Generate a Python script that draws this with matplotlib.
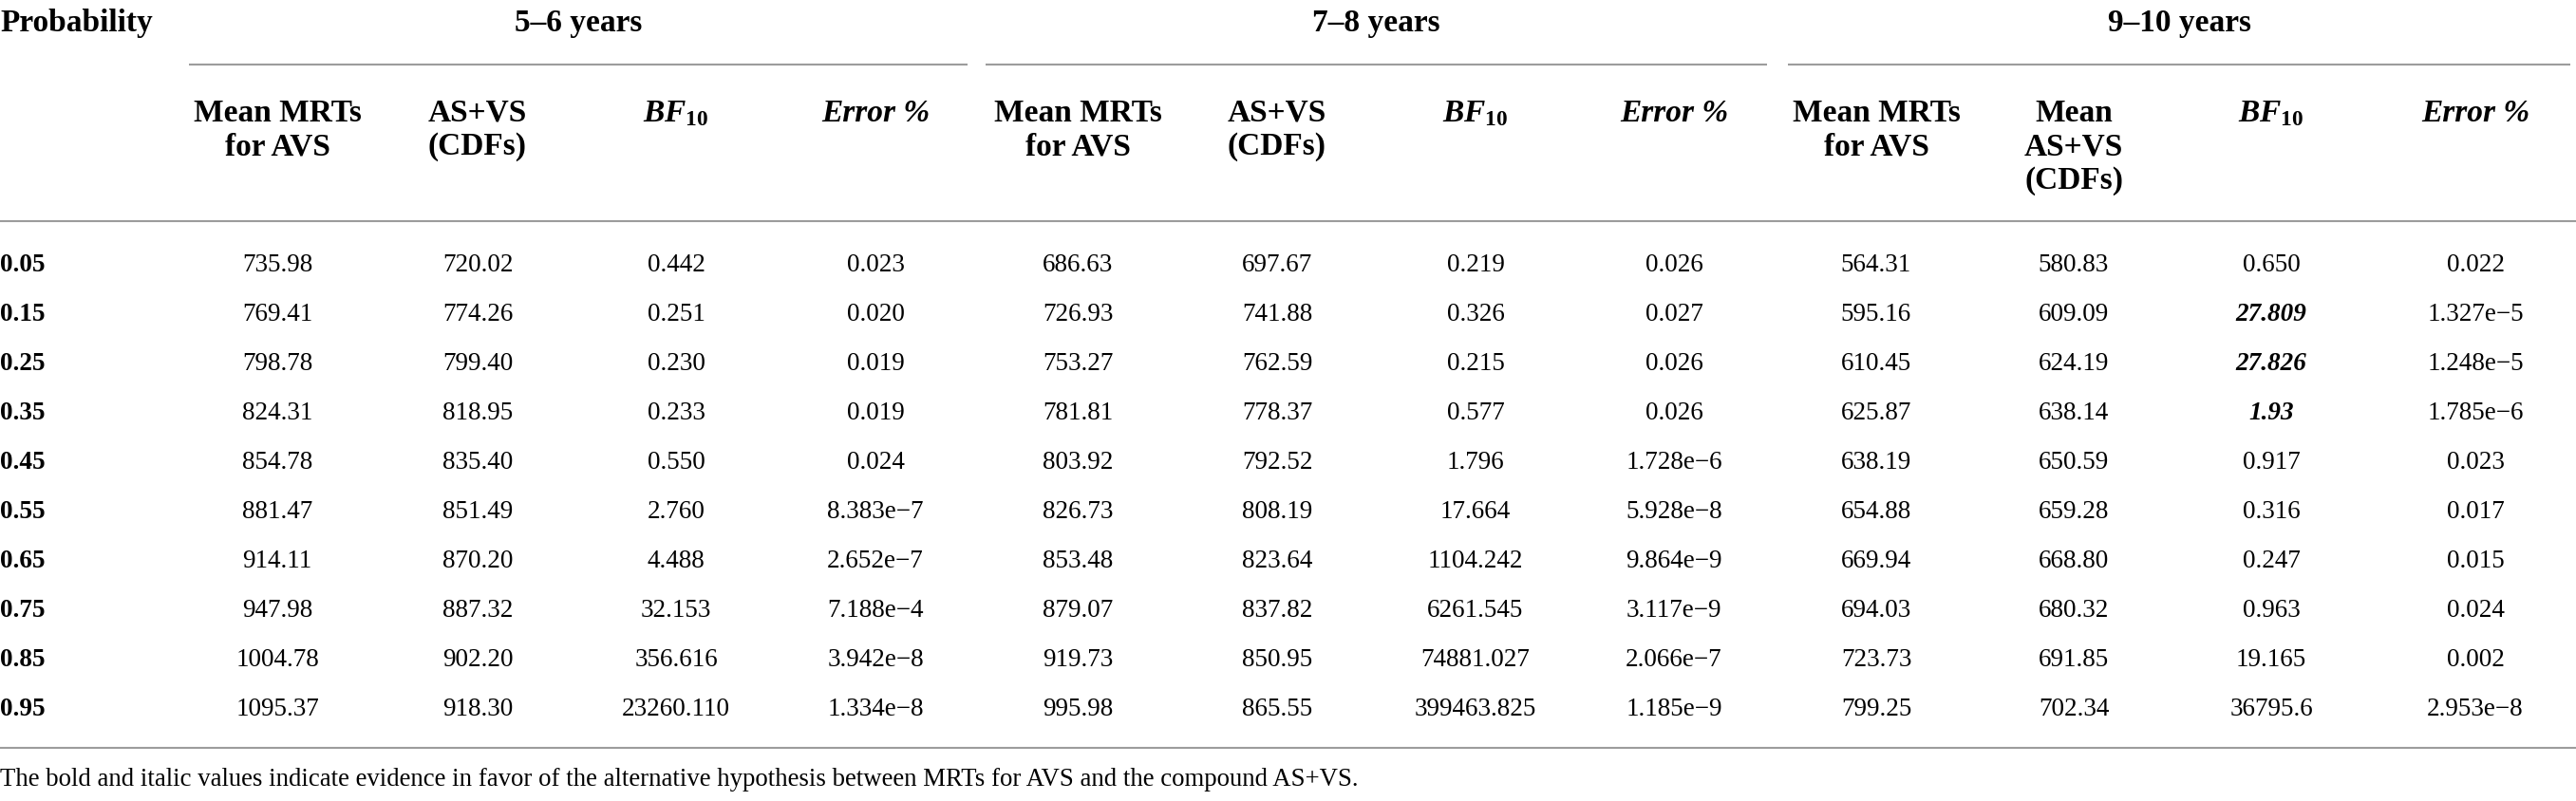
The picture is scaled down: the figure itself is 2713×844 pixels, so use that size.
import matplotlib.pyplot as plt

plt.rcParams['font.family'] = ['Liberation Serif', 'DejaVu Serif']
plt.rcParams['mathtext.fontset'] = 'custom'
plt.rcParams['mathtext.rm'] = 'Liberation Serif:bold'
plt.rcParams['mathtext.it'] = 'Liberation Serif:italic:bold'
plt.rcParams['mathtext.bf'] = 'Liberation Serif:bold'

# data
probabilities = ['0.05', '0.15', '0.25', '0.35', '0.45', '0.55', '0.65', '0.75', '0.85', '0.95']
groups = ['5\u20136 years', '7\u20138 years', '9\u201310 years']

mrt_56 = ['735.98', '769.41', '798.78', '824.31', '854.78', '881.47', '914.11', '947.98', '1004.78', '1095.37']
cdf_56 = ['720.02', '774.26', '799.40', '818.95', '835.40', '851.49', '870.20', '887.32', '902.20', '918.30']
bf_56 = ['0.442', '0.251', '0.230', '0.233', '0.550', '2.760', '4.488', '32.153', '356.616', '23260.110']
err_56 = ['0.023', '0.020', '0.019', '0.019', '0.024', '8.383e\u22127', '2.652e\u22127', '7.188e\u22124', '3.942e\u22128', '1.334e\u22128']

mrt_78 = ['686.63', '726.93', '753.27', '781.81', '803.92', '826.73', '853.48', '879.07', '919.73', '995.98']
cdf_78 = ['697.67', '741.88', '762.59', '778.37', '792.52', '808.19', '823.64', '837.82', '850.95', '865.55']
bf_78 = ['0.219', '0.326', '0.215', '0.577', '1.796', '17.664', '1104.242', '6261.545', '74881.027', '399463.825']
err_78 = ['0.026', '0.027', '0.026', '0.026', '1.728e\u22126', '5.928e\u22128', '9.864e\u22129', '3.117e\u22129', '2.066e\u22127', '1.185e\u22129']

mrt_910 = ['564.31', '595.16', '610.45', '625.87', '638.19', '654.88', '669.94', '694.03', '723.73', '799.25']
cdf_910 = ['580.83', '609.09', '624.19', '638.14', '650.59', '659.28', '668.80', '680.32', '691.85', '702.34']
bf_910 = ['0.650', '27.809', '27.826', '1.93', '0.917', '0.316', '0.247', '0.963', '19.165', '36795.6']
err_910 = ['0.022', '1.327e\u22125', '1.248e\u22125', '1.785e\u22126', '0.023', '0.017', '0.015', '0.024', '0.002', '2.953e\u22128']

# rows (by index) of the 9-10 years BF10 column in bold italic
highlight_910 = [1, 2, 3]

col_headers = [
    [['Mean MRTs', 'for AVS'], ['AS+VS', '(CDFs)'], None, ['Error %']],
    [['Mean MRTs', 'for AVS'], ['AS+VS', '(CDFs)'], None, ['Error %']],
    [['Mean MRTs', 'for AVS'], ['Mean', 'AS+VS', '(CDFs)'], None, ['Error %']],
]
footnote = ('The bold and italic values indicate evidence in favor of the alternative '
            'hypothesis between MRTs for AVS and the compound AS+VS.')

table = [
    [mrt_56, cdf_56, bf_56, err_56],
    [mrt_78, cdf_78, bf_78, err_78],
    [mrt_910, cdf_910, bf_910, err_910],
]

# layout (pixel coordinates)
W, H = 2713, 844
col_x = [[292, 503, 712, 922], [1135, 1345, 1554, 1763], [1976, 2184, 2392, 2607]]
group_span = [(199, 1019), (1038, 1861), (1883, 2707)]
row_y0, row_dy = 279, 52.0
rule_color = '#9c9c9c'
head_fs = 24
body_fs = 19.5

fig = plt.figure(figsize=(W / 100, H / 100), dpi=100)
ax = fig.add_axes([0, 0, 1, 1])
ax.set_xlim(0, W)
ax.set_ylim(H, 0)
ax.axis('off')

ax.text(0, 25, 'Probability', fontsize=head_fs, fontweight='bold', ha='left', va='center')

for g, name in enumerate(groups):
    x0, x1 = group_span[g]
    ax.text((x0 + x1) / 2, 25, name, fontsize=head_fs, fontweight='bold', ha='center', va='center')
    ax.plot([x0, x1], [68, 68], color=rule_color, lw=1.5, solid_capstyle='butt')
    for c in range(4):
        hdr = col_headers[g][c]
        if hdr is None:
            ax.text(col_x[g][c], 120, r'$\mathit{BF}_{10}$', fontsize=head_fs, ha='center', va='center')
        else:
            for k, line in enumerate(hdr):
                style = 'italic' if line == 'Error %' else 'normal'
                ax.text(col_x[g][c], 119 + k * 36, line, fontsize=head_fs, fontweight='bold',
                        fontstyle=style, ha='center', va='center')

ax.plot([0, W], [233, 233], color=rule_color, lw=1.5)
ax.plot([0, W], [788, 788], color=rule_color, lw=1.5)

for i, p in enumerate(probabilities):
    y = row_y0 + i * row_dy
    ax.text(0, y, p, fontsize=body_fs, fontweight='bold', ha='left', va='center')
    for g in range(3):
        for c in range(4):
            val = table[g][c][i]
            bold = g == 2 and c == 2 and i in highlight_910
            ax.text(col_x[g][c], y, val, fontsize=body_fs, ha='center', va='center',
                    fontweight='bold' if bold else 'normal',
                    fontstyle='italic' if bold else 'normal')

ax.text(0, 822, footnote, fontsize=19.3, ha='left', va='center')

fig.savefig('out.png', dpi=100)
